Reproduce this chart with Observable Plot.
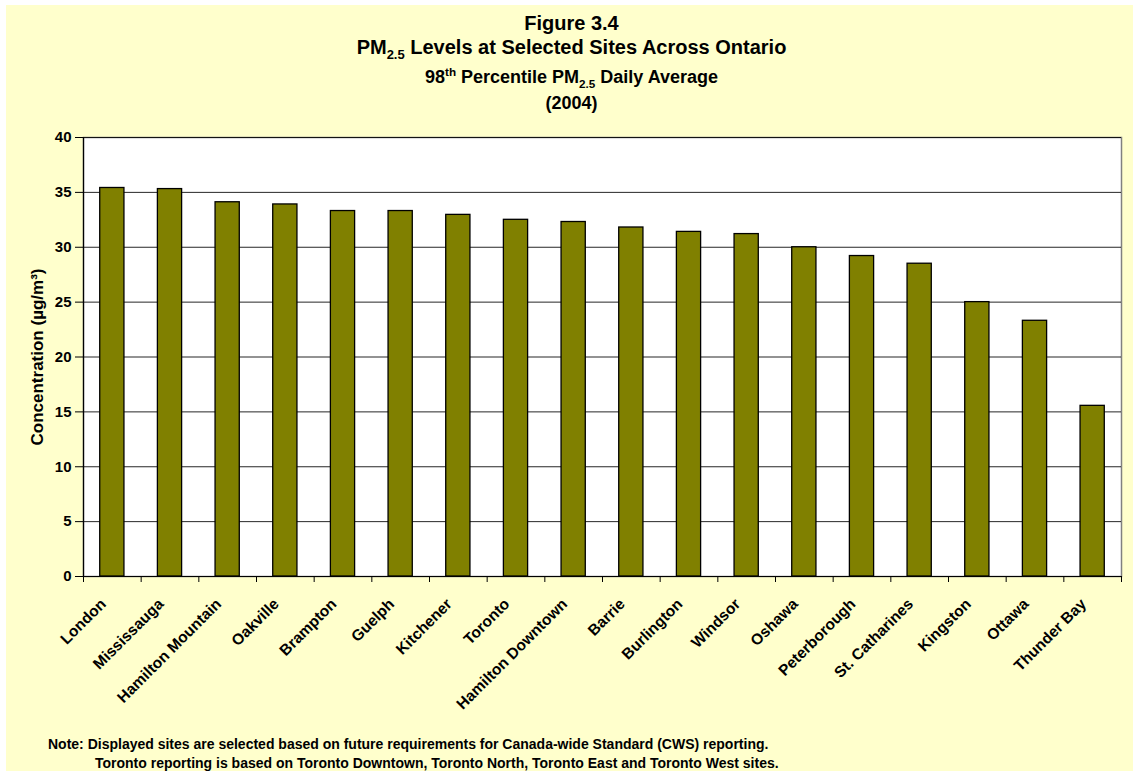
<!DOCTYPE html>
<html>
<head>
<meta charset="utf-8">
<script src="https://cdn.jsdelivr.net/npm/d3@7"></script>
<script src="https://cdn.jsdelivr.net/npm/@observablehq/plot@0.6"></script>
<style>
  html, body { margin: 0; padding: 0; background: #ffffff; }
  #page { position: relative; width: 1133px; height: 771px; overflow: hidden; background: #ffffff; }
  #panel { position: absolute; left: 6px; top: 5px; width: 1127px; height: 766px; background: #FFFFCC; }
  .t { position: absolute; left: 5px; width: 1133px; text-align: center; font-family: "Liberation Sans", Arial, sans-serif; font-weight: bold; color: #000; white-space: nowrap; line-height: 1; }
  .t sub, .t sup { font-size: 65%; line-height: 0; }
  #chart { position: absolute; left: 0; top: 100px; }
  .note { position: absolute; font-family: "Liberation Sans Narrow", "Arial Narrow", "Liberation Sans", Arial, sans-serif; font-stretch: condensed; font-weight: bold; font-size: 14px; color: #000; white-space: nowrap; line-height: 1; }
</style>
</head>
<body>
<div id="page">
  <div id="panel"></div>
  <div class="t" style="top:13px;font-size:20px;">Figure 3.4</div>
  <div class="t" style="top:37px;font-size:20px;">PM<sub>2.5</sub> Levels at Selected Sites Across Ontario</div>
  <div class="t" style="top:68px;font-size:18px;">98<sup>th</sup> Percentile PM<sub>2.5</sub> Daily Average</div>
  <div class="t" style="top:94px;font-size:18px;">(2004)</div>
  <div id="chart"></div>
  <div class="note" style="left:48px;top:737px;">Note: Displayed sites are selected based on future requirements for Canada-wide Standard (CWS) reporting.</div>
  <div class="note" style="left:95px;top:756px;">Toronto reporting is based on Toronto Downtown, Toronto North, Toronto East and Toronto West sites.</div>
</div>
<script>
const sites = ["London","Mississauga","Hamilton Mountain","Oakville","Brampton","Guelph","Kitchener","Toronto","Hamilton Downtown","Barrie","Burlington","Windsor","Oshawa","Peterborough","St. Catharines","Kingston","Ottawa","Thunder Bay"];
const values = [35.4,35.3,34.1,33.9,33.3,33.3,32.95,32.5,32.3,31.8,31.4,31.2,30.0,29.2,28.5,25.0,23.3,15.55];
const yTicks = [0,5,10,15,20,25,30,35,40];
const yLabel = "Concentration (µg/m³)";

const data = sites.map((s, i) => ({site: s, value: values[i]}));

const W = 1133, H = 616, mL = 83, mR = 12, mT = 37, mB = 140;
const step = (W - mL - mR) / sites.length;
const font = "Liberation Sans, Arial, sans-serif";

const chart = Plot.plot({
  width: W,
  height: H,
  marginLeft: mL,
  marginRight: mR,
  marginTop: mT,
  marginBottom: mB,
  style: {background: "transparent", fontFamily: font, fontWeight: "bold", color: "#000"},
  x: {type: "band", domain: sites, paddingInner: 0.58, paddingOuter: 0.29, round: false, label: null},
  y: {domain: [0, 40], label: null},
  marks: [
    Plot.frame({fill: "#ffffff", stroke: "#808080", strokeWidth: 1.5}),
    Plot.ruleY(yTicks.filter(d => d > 0), {y: d => d, stroke: "#000", strokeWidth: 1, strokeOpacity: 0.85}),
    Plot.barY(data, {x: "site", y: "value", fill: "#808000", stroke: "#000", strokeWidth: 1.3}),
    Plot.ruleY([0], {stroke: "#000", strokeWidth: 1.2}),
    Plot.ruleX([sites[0]], {x: d => d, dx: -step / 2, stroke: "#000", strokeWidth: 1.2}),
    Plot.ruleX(sites, {x: d => d, y1: 0, y2: 0, insetBottom: -6, dx: -step / 2, stroke: "#000"}),
    Plot.ruleX([sites[sites.length - 1]], {x: d => d, y1: 0, y2: 0, insetBottom: -6, dx: step / 2, stroke: "#000"}),
    Plot.axisY({ticks: yTicks, tickSize: 8, tickPadding: 4, fontSize: 15, fontWeight: "bold", stroke: "#000", label: null}),
    Plot.axisX({tickRotate: -45, tickSize: 0, tickPadding: 25, dx: -9, fontSize: 15.5, fontWeight: "bold", label: null}),
    Plot.text([yLabel], {text: d => d, frameAnchor: "left", textAnchor: "middle", dx: -46, rotate: -90, fontSize: 17, fontWeight: "bold", fill: "#000"})
  ]
});
document.getElementById("chart").appendChild(chart);
</script>
</body>
</html>
